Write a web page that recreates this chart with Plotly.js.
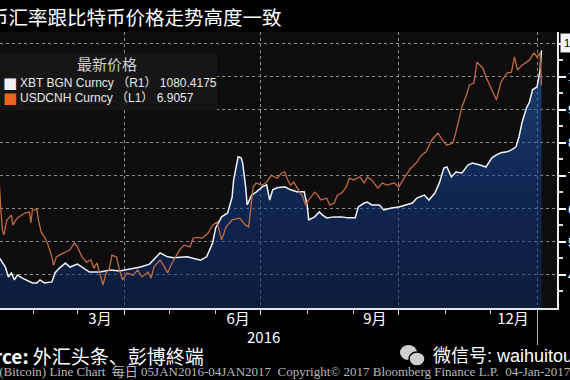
<!DOCTYPE html>
<html>
<head>
<meta charset="utf-8">
<script src="https://cdn.plot.ly/plotly-3.0.1.min.js"></script>
<style>html,body{margin:0;padding:0;background:#000;overflow:hidden;}</style>
</head>
<body>
<div id="chart" style="width:570px;height:380px;"></div>
<script>
// ---- data ----
const xbtDates = ['2016-01-05','2016-01-07','2016-01-09','2016-01-13','2016-01-15','2016-01-17','2016-01-19','2016-01-21','2016-01-24','2016-01-27','2016-01-31','2016-02-03','2016-02-05','2016-02-08','2016-02-13','2016-02-15','2016-02-18','2016-02-22','2016-02-25','2016-03-01','2016-03-05','2016-03-09','2016-03-16','2016-03-23','2016-03-29','2016-04-05','2016-04-12','2016-04-18','2016-04-25','2016-04-30','2016-05-04','2016-05-13','2016-05-22','2016-05-26','2016-05-30','2016-06-01','2016-06-05','2016-06-09','2016-06-12','2016-06-13','2016-06-16','2016-06-18','2016-06-19','2016-06-21','2016-06-22','2016-06-25','2016-06-28','2016-07-02','2016-07-05','2016-07-07','2016-07-09','2016-07-12','2016-07-17','2016-07-21','2016-07-25','2016-07-30','2016-08-01','2016-08-02','2016-08-06','2016-08-09','2016-08-11','2016-08-14','2016-08-19','2016-08-24','2016-08-28','2016-09-02','2016-09-04','2016-09-08','2016-09-10','2016-09-13','2016-09-18','2016-09-21','2016-09-26','2016-10-01','2016-10-06','2016-10-10','2016-10-13','2016-10-18','2016-10-21','2016-10-25','2016-10-28','2016-10-31','2016-11-02','2016-11-05','2016-11-08','2016-11-12','2016-11-16','2016-11-19','2016-11-24','2016-11-28','2016-12-02','2016-12-05','2016-12-08','2016-12-12','2016-12-15','2016-12-18','2016-12-20','2016-12-22','2016-12-25','2016-12-27','2016-12-29','2017-01-01','2017-01-03','2017-01-04'];
const xbtValues = [433,458,452,424,394,406,385,400,391,385,376,376,385,376,379,406,421,436,424,433,421,409,409,415,412,418,424,433,467,455,452,455,445,455,497,542,576,588,636,688,758,755,739,667,612,642,651,667,673,627,658,664,667,658,652,652,610,567,576,591,582,573,576,576,573,573,606,618,621,612,612,597,603,606,612,618,633,642,627,648,679,724,727,697,712,709,733,739,733,727,755,764,770,773,779,788,818,861,906,924,961,970,1020,1080.4175];

const cnhDates = ['2016-01-05','2016-01-06','2016-01-07','2016-01-08','2016-01-09','2016-01-10','2016-01-11','2016-01-12','2016-01-14','2016-01-17','2016-01-18','2016-01-20','2016-01-22','2016-01-26','2016-01-29','2016-01-30','2016-01-31','2016-02-03','2016-02-04','2016-02-06','2016-02-08','2016-02-10','2016-02-13','2016-02-14','2016-02-16','2016-02-18','2016-02-21','2016-02-25','2016-02-28','2016-03-01','2016-03-04','2016-03-07','2016-03-10','2016-03-12','2016-03-14','2016-03-17','2016-03-18','2016-03-20','2016-03-22','2016-03-24','2016-03-27','2016-03-29','2016-03-31','2016-04-03','2016-04-07','2016-04-10','2016-04-13','2016-04-17','2016-04-19','2016-04-21','2016-04-25','2016-04-28','2016-04-30','2016-05-03','2016-05-05','2016-05-08','2016-05-11','2016-05-15','2016-05-17','2016-05-20','2016-05-23','2016-05-27','2016-05-30','2016-06-02','2016-06-05','2016-06-08','2016-06-12','2016-06-17','2016-06-21','2016-06-23','2016-06-26','2016-06-28','2016-07-02','2016-07-05','2016-07-08','2016-07-12','2016-07-15','2016-07-17','2016-07-19','2016-07-21','2016-07-23','2016-07-25','2016-07-29','2016-07-31','2016-08-02','2016-08-06','2016-08-08','2016-08-10','2016-08-14','2016-08-16','2016-08-19','2016-08-21','2016-08-24','2016-08-27','2016-08-29','2016-09-01','2016-09-05','2016-09-08','2016-09-10','2016-09-13','2016-09-17','2016-09-20','2016-09-23','2016-09-28','2016-10-01','2016-10-05','2016-10-09','2016-10-13','2016-10-16','2016-10-19','2016-10-21','2016-10-23','2016-10-27','2016-10-29','2016-10-31','2016-11-02','2016-11-06','2016-11-08','2016-11-10','2016-11-12','2016-11-15','2016-11-17','2016-11-20','2016-11-22','2016-11-26','2016-11-28','2016-12-02','2016-12-05','2016-12-08','2016-12-12','2016-12-15','2016-12-17','2016-12-19','2016-12-22','2016-12-25','2016-12-27','2016-12-30','2017-01-01','2017-01-03','2017-01-04'];
const cnhValues = [6.63,6.70,6.75,6.70,6.68,6.62,6.573,6.561,6.596,6.607,6.584,6.596,6.603,6.612,6.614,6.589,6.619,6.621,6.596,6.566,6.557,6.543,6.511,6.492,6.511,6.515,6.520,6.527,6.543,6.534,6.511,6.499,6.504,6.485,6.497,6.462,6.446,6.474,6.481,6.515,6.511,6.481,6.458,6.474,6.469,6.481,6.465,6.476,6.462,6.488,6.504,6.488,6.474,6.497,6.508,6.527,6.538,6.534,6.554,6.556,6.554,6.566,6.584,6.591,6.550,6.580,6.596,6.600,6.584,6.580,6.672,6.681,6.676,6.683,6.699,6.692,6.704,6.706,6.688,6.676,6.683,6.672,6.649,6.630,6.642,6.660,6.653,6.642,6.646,6.630,6.635,6.653,6.658,6.672,6.692,6.688,6.695,6.681,6.695,6.688,6.669,6.681,6.676,6.681,6.672,6.695,6.715,6.729,6.745,6.752,6.768,6.780,6.796,6.784,6.775,6.768,6.773,6.798,6.830,6.856,6.883,6.906,6.911,6.959,6.945,6.925,6.895,6.872,6.913,6.934,6.936,6.971,6.941,6.952,6.959,6.964,6.980,6.971,6.980,6.9057];

const seriesNames = ['XBT BGN Curncy', 'USDCNH Curncy'];
const seriesAxisTags = ['（R1）', '（L1）'];
const lastValueLabels = ['1080.4175', '6.9057'];
const legendTitle = '最新价格';
const monthLabelDates = ['2016-03-16', '2016-06-16', '2016-09-15', '2016-12-16'];
const monthLabels = ['3月', '6月', '9月', '12月'];
const quarterStarts = ['2016-04-01', '2016-07-01', '2016-10-01', '2017-01-01'];
const monthStarts = ['2016-02-01','2016-03-01','2016-04-01','2016-05-01','2016-06-01','2016-07-01','2016-08-01','2016-09-01','2016-10-01','2016-11-01','2016-12-01','2017-01-01'];
const yearLabel = '2016';
const xbtTicks = [400, 500, 600, 700, 800, 900, 1000, 1100];
const xbtMinorTicks = [350, 450, 550, 650, 750, 850, 950, 1050];
const titleText = '人民币汇率跟比特币价格走势高度一致';
const sourceText = '<b>Source:</b> 外汇头条、彭博終端';
const wechatText = '微信号: waihuitou';
const footerText = 'XBT BGN Curncy (Bitcoin) Line Chart\u00a0\u00a0每日 05JAN2016-04JAN2017\u00a0\u00a0Copyright\u00a9 2017 Bloomberg Finance L.P.\u00a0\u00a004-Jan-2017';

// ---- layout helpers (pixel -> paper) ----
const W = 570, H = 380, ML = 0, MR = 13, MT = 32, MB = 72;
const PW = W - ML - MR, PH = H - MT - MB;
const px = x => (x - ML) / PW;
const py = y => (H - MB - y) / PH;
const xRange = ['2016-01-09 10:19', '2017-01-14 07:40'];

const CJK = '"Noto Sans CJK SC", "Noto Sans", sans-serif';
const LAT = '"Liberation Sans", "Noto Sans CJK SC", sans-serif';

const traces = [
  {
    x: xbtDates, y: xbtValues, xaxis: 'x', yaxis: 'y', type: 'scatter', mode: 'lines',
    name: seriesNames[0], line: {color: '#eef1f5', width: 1.5},
    fill: 'tozeroy',
    fillgradient: {type: 'vertical', start: 300, stop: 1100,
      colorscale: [[0, 'rgba(10,40,95,0.55)'], [0.45, 'rgba(18,58,140,0.55)'], [1, 'rgba(40,110,200,0.55)']]},
    hoverinfo: 'skip', showlegend: false
  },
  {
    x: cnhDates, y: cnhValues, xaxis: 'x', yaxis: 'y2', type: 'scatter', mode: 'lines',
    name: seriesNames[1], line: {color: '#bf6a40', width: 1.3},
    hoverinfo: 'skip', showlegend: false
  },
  // empty helper traces so the overlay label / separator axes get drawn
  {x: [], y: [], xaxis: 'x2', yaxis: 'y', type: 'scatter', mode: 'lines', hoverinfo: 'skip', showlegend: false},
  {x: [], y: [], xaxis: 'x3', yaxis: 'y', type: 'scatter', mode: 'lines', hoverinfo: 'skip', showlegend: false}
];

const grid = '#8c8c8c';
const layout = {
  width: W, height: H,
  margin: {l: ML, r: MR, t: MT, b: MB, pad: 0},
  paper_bgcolor: '#000000',
  plot_bgcolor: '#0e0e0e',
  showlegend: false,
  xaxis: {
    type: 'date', range: xRange, anchor: 'y',
    tickmode: 'array', tickvals: quarterStarts, showticklabels: false,
    ticks: 'outside', ticklen: 5, tickcolor: '#dddddd', tickwidth: 1,
    showgrid: true, gridcolor: grid, griddash: 'dot', gridwidth: 1,
    showline: true, linecolor: '#e6e6e6', linewidth: 1.5, zeroline: false,
    minor: {tickmode: 'array', tickvals: monthStarts, ticks: 'outside', ticklen: 4, tickcolor: '#cccccc', showgrid: false}
  },
  xaxis2: {
    type: 'date', range: xRange, overlaying: 'x', anchor: 'y', side: 'bottom',
    tickmode: 'array', tickvals: monthLabelDates, ticktext: monthLabels,
    ticks: '', showgrid: false, showline: false, zeroline: false,
    tickfont: {family: CJK, size: 15, color: '#ffffff'}
  },
  xaxis3: {
    type: 'date', range: xRange, overlaying: 'x', anchor: 'y', side: 'bottom',
    tickmode: 'array', tickvals: [quarterStarts[3]], showticklabels: false,
    ticks: 'outside', ticklen: 36, tickcolor: '#bbbbbb', tickwidth: 1,
    showgrid: false, showline: false, zeroline: false
  },
  yaxis: {
    side: 'right', range: [300, 1136], anchor: 'x',
    tickmode: 'array', tickvals: xbtTicks,
    ticks: 'outside', ticklen: 7, tickwidth: 2, tickcolor: '#ffffff',
    showgrid: true, gridcolor: grid, griddash: 'dot', gridwidth: 1,
    showline: true, linecolor: '#f0f0f0', linewidth: 1.5, zeroline: false,
    tickfont: {family: LAT, size: 13, color: '#ffffff'},
    minor: {tickmode: 'array', tickvals: xbtMinorTicks, ticks: 'outside', ticklen: 4, tickcolor: '#dddddd', showgrid: false}
  },
  yaxis2: {
    overlaying: 'y', side: 'left', range: [6.3935, 7.0283], visible: false, showgrid: false, zeroline: false
  },
  shapes: [
    {type: 'rect', xref: 'paper', yref: 'paper', x0: px(-5), x1: px(217), y0: py(110), y1: py(53),
     fillcolor: '#161616', line: {width: 0}, layer: 'above'},
    {type: 'circle', xref: 'paper', yref: 'paper', x0: px(400), x1: px(417), y0: py(360), y1: py(345),
     fillcolor: '#cfcfcf', line: {width: 0}},
    {type: 'circle', xref: 'paper', yref: 'paper', x0: px(409), x1: px(425), y0: py(366), y1: py(352),
     fillcolor: '#cfcfcf', line: {color: '#000000', width: 1.5}}
  ],
  annotations: [
    {text: titleText, xref: 'paper', yref: 'paper', x: px(284), y: py(17), xanchor: 'right', yanchor: 'middle',
     showarrow: false, font: {family: CJK, size: 19.5, color: '#ffffff'}},
    {text: legendTitle, xref: 'paper', yref: 'paper', x: px(107), y: py(64), xanchor: 'center', yanchor: 'middle',
     showarrow: false, font: {family: CJK, size: 15, color: '#cfcfcf'}},
    {text: '■', xref: 'paper', yref: 'paper', x: px(10), y: py(83), xanchor: 'center', yanchor: 'middle',
     showarrow: false, font: {family: '"DejaVu Sans"', size: 15, color: '#f2f2f2'}},
    {text: seriesNames[0] + ' ' + seriesAxisTags[0] + ' ' + lastValueLabels[0], xref: 'paper', yref: 'paper',
     x: px(18), y: py(83), xanchor: 'left', yanchor: 'middle',
     showarrow: false, font: {family: LAT, size: 12, color: '#e8e8e8'}},
    {text: '■', xref: 'paper', yref: 'paper', x: px(10), y: py(98), xanchor: 'center', yanchor: 'middle',
     showarrow: false, font: {family: '"DejaVu Sans"', size: 15, color: '#e8661f'}},
    {text: seriesNames[1] + ' ' + seriesAxisTags[1] + ' ' + lastValueLabels[1], xref: 'paper', yref: 'paper',
     x: px(18), y: py(98), xanchor: 'left', yanchor: 'middle',
     showarrow: false, font: {family: LAT, size: 12, color: '#e8e8e8'}},
    {text: yearLabel, xref: 'x', yref: 'paper', x: '2016-07-03', y: py(336), xanchor: 'center', yanchor: 'middle',
     showarrow: false, font: {family: CJK, size: 15, color: '#ffffff'}},
    {text: sourceText, xref: 'paper', yref: 'paper', x: px(206), y: py(356), xanchor: 'right', yanchor: 'middle',
     showarrow: false, font: {family: CJK, size: 19, color: '#ffffff'}},
    {text: wechatText, xref: 'paper', yref: 'paper', x: px(431), y: py(356), xanchor: 'left', yanchor: 'middle',
     showarrow: false, font: {family: LAT, size: 18, color: '#ffffff'}},
    {text: footerText, xref: 'paper', yref: 'paper', x: px(573), y: py(371), xanchor: 'right', yanchor: 'middle',
     showarrow: false, font: {family: '"Liberation Serif", "Noto Sans CJK SC", serif', size: 13, color: '#b8b8b8'}},
    {text: lastValueLabels[0].slice(0, 7), xref: 'paper', yref: 'y', x: px(560), y: xbtValues[xbtValues.length - 1],
     yshift: 7, xanchor: 'left', yanchor: 'middle', showarrow: false, bgcolor: '#f4f4f4', borderpad: 3,
     font: {family: LAT, size: 11, color: '#000000'}}
  ]
};

Plotly.newPlot('chart', traces, layout, {staticPlot: true, displayModeBar: false});
</script>
</body>
</html>
